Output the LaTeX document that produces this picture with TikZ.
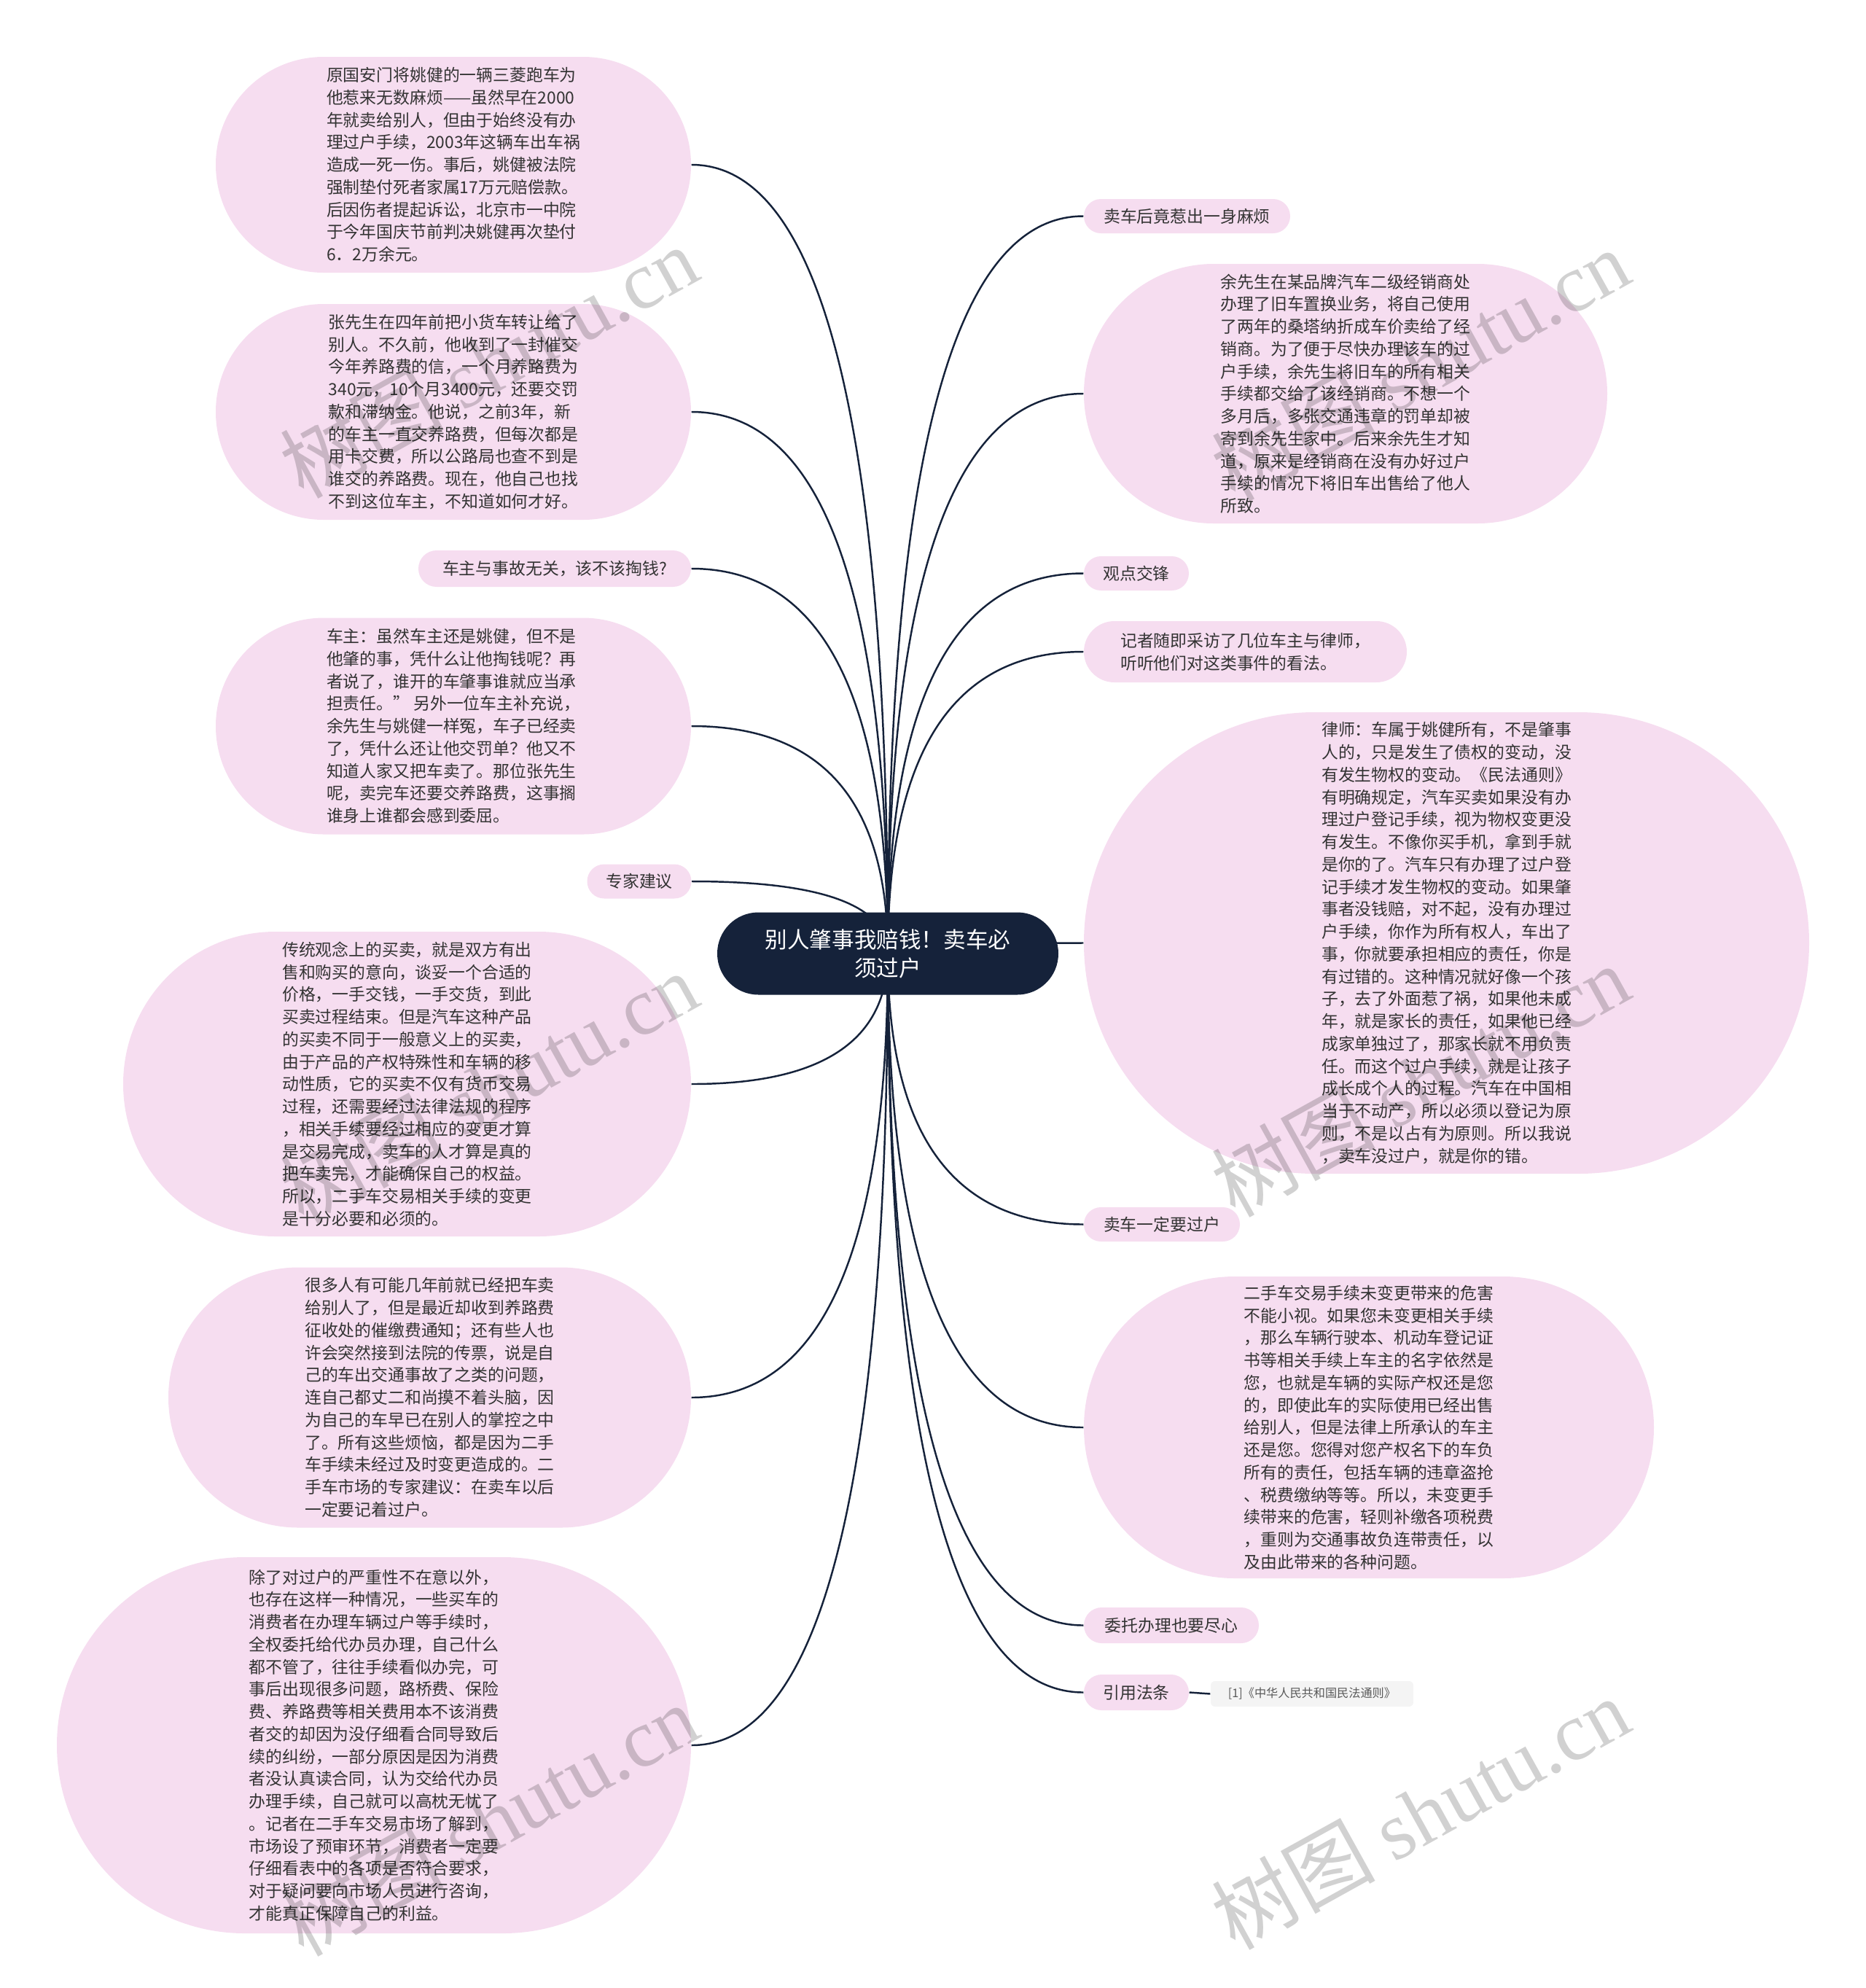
\documentclass[tikz,border=0pt]{standalone}
\usepackage{fontspec}
\setmainfont{Noto Sans CJK SC}
\newfontfamily\wmserif{Liberation Serif}
\usetikzlibrary{calc,backgrounds}
\definecolor{bubpink}{HTML}{F6DDF0}
\definecolor{rootnavy}{HTML}{15223A}
\definecolor{inkgray}{HTML}{333333}
\definecolor{refgray}{HTML}{F4F4F4}

\begin{document}
\begin{tikzpicture}[
  bub/.style={fill=bubpink,text=inkgray,align=left,inner sep=0pt,font=\fontsize{6.5pt}{8.75pt}\selectfont},
  hub/.style={fill=rootnavy,text=white,align=center,inner sep=0pt,font=\fontsize{8.7pt}{11.1pt}\selectfont},
  link/.style={draw=rootnavy,line width=0.7pt},
  wm/.style={rotate=29,text=black,text opacity=0.18,inner sep=0pt,font=\fontsize{32pt}{32pt}\selectfont}
]
  \useasboundingbox (0,0) rectangle (25.6,-27.27);

  \node[hub,minimum width=4.68cm,minimum height=1.13cm,rounded corners=0.564cm] (root) at (12.18,-13.08)
    {别人肇事我赔钱！卖车必\\须过户};

  \node[bub,minimum width=6.52cm,minimum height=2.96cm,rounded corners=1.479cm] (yao) at (6.22,-2.26)
    {原国安门将姚健的一辆三菱跑车为\\他惹来无数麻烦——虽然早在2000\\年就卖给别人，但由于始终没有办\\理过户手续，2003年这辆车出车祸\\造成一死一伤。事后，姚健被法院\\强制垫付死者家属17万元赔偿款。\\后因伤者提起诉讼，北京市一中院\\于今年国庆节前判决姚健再次垫付\\6．2万余元。};
  \node[bub,minimum width=6.52cm,minimum height=2.96cm,rounded corners=1.479cm] (zhang) at (6.22,-5.65)
    {张先生在四年前把小货车转让给了\\别人。不久前，他收到了一封催交\\今年养路费的信，一个月养路费为\\340元，10个月3400元，还要交罚\\款和滞纳金。他说，之前3年，新\\的车主一直交养路费，但每次都是\\用卡交费，所以公路局也查不到是\\谁交的养路费。现在，他自己也找\\不到这位车主，不知道如何才好。};
  \node[bub,minimum width=3.74cm,minimum height=0.50cm,rounded corners=0.249cm] (q) at (7.61,-7.80)
    {车主与事故无关，该不该掏钱?};
  \node[bub,minimum width=6.52cm,minimum height=2.97cm,rounded corners=1.484cm] (chezhu) at (6.22,-9.96)
    {车主：虽然车主还是姚健，但不是\\他肇的事，凭什么让他掏钱呢？再\\者说了，谁开的车肇事谁就应当承\\担责任。” 另外一位车主补充说，\\余先生与姚健一样冤，车子已经卖\\了，凭什么还让他交罚单？他又不\\知道人家又把车卖了。那位张先生\\呢，卖完车还要交养路费，这事搁\\谁身上谁都会感到委屈。};
  \node[bub,minimum width=1.43cm,minimum height=0.47cm,rounded corners=0.234cm] (zhuanjia) at (8.77,-12.09)
    {专家建议};
  \node[bub,minimum width=7.79cm,minimum height=4.18cm,rounded corners=2.089cm] (chuantong) at (5.585,-14.87)
    {传统观念上的买卖，就是双方有出\\售和购买的意向，谈妥一个合适的\\价格，一手交钱，一手交货，到此\\买卖过程结束。但是汽车这种产品\\的买卖不同于一般意义上的买卖，\\由于产品的产权特殊性和车辆的移\\动性质，它的买卖不仅有货币交易\\过程，还需要经过法律法规的程序\\，相关手续要经过相应的变更才算\\是交易完成，卖车的人才算是真的\\把车卖完，才能确保自己的权益。\\所以，二手车交易相关手续的变更\\是十分必要和必须的。};
  \node[bub,minimum width=7.17cm,minimum height=3.57cm,rounded corners=1.784cm] (henduo) at (5.895,-19.17)
    {很多人有可能几年前就已经把车卖\\给别人了，但是最近却收到养路费\\征收处的催缴费通知；还有些人也\\许会突然接到法院的传票，说是自\\己的车出交通事故了之类的问题，\\连自己都丈二和尚摸不着头脑，因\\为自己的车早已在别人的掌控之中\\了。所有这些烦恼，都是因为二手\\车手续未经过及时变更造成的。二\\手车市场的专家建议：在卖车以后\\一定要记着过户。};
  \node[bub,minimum width=8.70cm,minimum height=5.16cm,rounded corners=2.579cm] (chule) at (5.13,-23.94)
    {除了对过户的严重性不在意以外，\\也存在这样一种情况，一些买车的\\消费者在办理车辆过户等手续时，\\全权委托给代办员办理，自己什么\\都不管了，往往手续看似办完，可\\事后出现很多问题，路桥费、保险\\费、养路费等相关费用本不该消费\\者交的却因为没仔细看合同导致后\\续的纠纷，一部分原因是因为消费\\者没认真读合同，认为交给代办员\\办理手续，自己就可以高枕无忧了\\。记者在二手车交易市场了解到，\\市场设了预审环节，消费者一定要\\仔细看表中的各项是否符合要求，\\对于疑问要向市场人员进行咨询，\\才能真正保障自己的利益。};

  \node[bub,minimum width=2.83cm,minimum height=0.47cm,rounded corners=0.234cm] (maiche) at (16.285,-2.965)
    {卖车后竟惹出一身麻烦};
  \node[bub,minimum width=7.18cm,minimum height=3.56cm,rounded corners=1.779cm] (yu) at (18.46,-5.40)
    {余先生在某品牌汽车二级经销商处\\办理了旧车置换业务，将自己使用\\了两年的桑塔纳折成车价卖给了经\\销商。为了便于尽快办理该车的过\\户手续，余先生将旧车的所有相关\\手续都交给了该经销商。不想一个\\多月后，多张交通违章的罚单却被\\寄到余先生家中。后来余先生才知\\道，原来是经销商在没有办好过户\\手续的情况下将旧车出售给了他人\\所致。};
  \node[bub,minimum width=1.44cm,minimum height=0.47cm,rounded corners=0.234cm] (guandian) at (15.59,-7.865)
    {观点交锋};
  \node[bub,minimum width=4.43cm,minimum height=0.84cm,rounded corners=0.419cm] (jizhe) at (17.085,-8.94)
    {记者随即采访了几位车主与律师，\\听听他们对这类事件的看法。};
  \node[bub,minimum width=9.95cm,minimum height=6.33cm,rounded corners=3.164cm] (lvshi) at (19.845,-12.935)
    {律师：车属于姚健所有，不是肇事\\人的，只是发生了债权的变动，没\\有发生物权的变动。《民法通则》\\有明确规定，汽车买卖如果没有办\\理过户登记手续，视为物权变更没\\有发生。不像你买手机，拿到手就\\是你的了。汽车只有办理了过户登\\记手续才发生物权的变动。如果肇\\事者没钱赔，对不起，没有办理过\\户手续，你作为所有权人，车出了\\事，你就要承担相应的责任，你是\\有过错的。这种情况就好像一个孩\\子，去了外面惹了祸，如果他未成\\年，就是家长的责任，如果他已经\\成家单独过了，那家长就不用负责\\任。而这个过户手续，就是让孩子\\成长成个人的过程。汽车在中国相\\当于不动产，所以必须以登记为原\\则，不是以占有为原则。所以我说\\，卖车没过户，就是你的错。};
  \node[bub,minimum width=2.14cm,minimum height=0.47cm,rounded corners=0.234cm] (yiding) at (15.94,-16.795)
    {卖车一定要过户};
  \node[bub,minimum width=7.82cm,minimum height=4.14cm,rounded corners=2.069cm] (ershou) at (18.78,-19.58)
    {二手车交易手续未变更带来的危害\\不能小视。如果您未变更相关手续\\，那么车辆行驶本、机动车登记证\\书等相关手续上车主的名字依然是\\您，也就是车辆的实际产权还是您\\的，即使此车的实际使用已经出售\\给别人，但是法律上所承认的车主\\还是您。您得对您产权名下的车负\\所有的责任，包括车辆的违章盗抢\\、税费缴纳等等。所以，未变更手\\续带来的危害，轻则补缴各项税费\\，重则为交通事故负连带责任，以\\及由此带来的各种问题。};
  \node[bub,minimum width=2.40cm,minimum height=0.49cm,rounded corners=0.244cm] (weituo) at (16.07,-22.295)
    {委托办理也要尽心};
  \node[bub,minimum width=1.44cm,minimum height=0.49cm,rounded corners=0.244cm] (yinyong) at (15.59,-23.215)
    {引用法条};
  \node[fill=refgray,text=black!65,inner sep=0pt,minimum width=2.78cm,minimum height=0.35cm,rounded corners=0.06cm,font=\fontsize{4.6pt}{5.5pt}\selectfont] (fatiao) at (18.0,-23.235)
    {[1]《中华人民共和国民法通则》};

  \begin{scope}[on background layer]
    \foreach \n in {yao,zhang,q,chezhu,zhuanjia,chuantong,henduo,chule}
      \draw[link] (root.center) .. controls ($(root.center)!0.667!(root.center |- \n.east)$) and ($(\n.east)!0.667!(root.center |- \n.east)$) .. (\n.east);
    \foreach \n in {maiche,yu,guandian,jizhe,lvshi,yiding,ershou,weituo,yinyong}
      \draw[link] (root.center) .. controls ($(root.center)!0.667!(root.center |- \n.west)$) and ($(\n.west)!0.667!(root.center |- \n.west)$) .. (\n.west);
  \end{scope}
  \draw[link] (yinyong.east) -- (fatiao.west);

  \foreach \x/\y [count=\i] in {6.70/-4.96,19.48/-5.00,6.70/-14.92,19.48/-14.82,6.70/-24.96,19.48/-24.87}
    \node[wm] (mark\i) at (\x,\y) {树图 {\wmserif shutu.cn}};
\end{tikzpicture}
\end{document}
